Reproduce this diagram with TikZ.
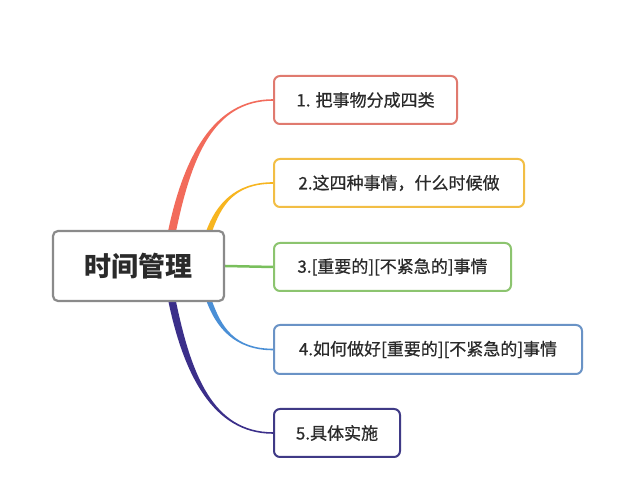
\documentclass[tikz,border=0pt]{standalone}
\usepackage{fontspec}
\setmainfont{Noto Sans CJK SC}
\newfontfamily\subfont[FakeBold=0.6]{Noto Sans CJK SC}
\usetikzlibrary{calc,backgrounds}
\definecolor{cRed}{HTML}{F26B5B}
\definecolor{bRed}{HTML}{E07A6F}
\definecolor{cYel}{HTML}{F7B51F}
\definecolor{bYel}{HTML}{F2BE45}
\definecolor{cGrn}{HTML}{79BF5C}
\definecolor{bGrn}{HTML}{8CC46F}
\definecolor{cBlu}{HTML}{4A8FD6}
\definecolor{bBlu}{HTML}{6A93C6}
\definecolor{cPur}{HTML}{3B2F8A}
\definecolor{bPur}{HTML}{3F3A86}
\definecolor{cGry}{HTML}{8A8A8A}
\definecolor{txt}{HTML}{2A2A2A}
\tikzset{
  topic/.style={draw=cGry,line width=2.2pt,rounded corners=5pt,fill=white,
    minimum width=171pt,minimum height=70pt,inner sep=0pt,text=txt,
    font=\fontsize{27}{30}\selectfont\bfseries},
  sub/.style={line width=2pt,rounded corners=6pt,fill=white,
    minimum height=48pt,inner sep=0pt,anchor=west,text=txt,
    font=\subfont\fontsize{17}{20}\selectfont},
}
% #1 colour, #2 start, #3 end, #4 half width at start, #5 sign (1 up, -1 down)
\newcommand\taperline[5]{%
  \fill[#1] let \p1=(#2), \p2=(#3), \n1={\x2-\x1}, \n2={\y2-\y1} in
    ({\x1-#4pt},\y1) .. controls ({\x1-#4pt+0.15*\n1},{\y1+0.55*\n2})
      and ({\x1+0.4*\n1},{\y2+#5*0.8pt}) .. (\x2,{\y2+#5*0.8pt})
    -- (\x2,{\y2-#5*0.8pt}) .. controls ({\x1+0.4*\n1},{\y2-#5*0.8pt})
      and ({\x1+#4pt+0.15*\n1},{\y1+0.55*\n2}) .. ({\x1+#4pt},\y1) -- cycle;}
\begin{document}
\begin{tikzpicture}[x=1pt,y=1pt]
\useasboundingbox (0,0) rectangle (625,500);
\node[topic] (c) at (138.5,234) {时间管理};
\node[sub,draw=bRed,minimum width=183pt] (b1) at (273,400) {1. 把事物分成四类};
\node[sub,draw=bYel,minimum width=250pt] (b2) at (273,317) {2.这四种事情，什么时候做};
\node[sub,draw=bGrn,minimum width=237pt] (b3) at (273,233) {3.[重要的][不紧急的]事情};
\node[sub,draw=bBlu,minimum width=308pt,minimum height=49pt] (b4) at (273,150.5) {4.如何做好[重要的][不紧急的]事情};
\node[sub,draw=bPur,minimum width=126pt] (b5) at (273,67) {5.具体实施};
\coordinate (s1) at ($(c.north west)+(120,-2)$);
\coordinate (s2) at ($(c.north west)+(157,-2)$);
\coordinate (s4) at ($(c.south west)+(157,2)$);
\coordinate (s5) at ($(c.south west)+(120,2)$);
\begin{scope}[on background layer]
\fill[white] (0,0) rectangle (625,500);
\taperline{cRed}{s1}{b1.west}{4}{1}
\taperline{cYel}{s2}{b2.west}{3}{1}
\draw[cGrn,line width=2.5pt] (c.east) -- (b3.west);
\taperline{cBlu}{s4}{b4.west}{2.8}{-1}
\taperline{cPur}{s5}{b5.west}{3.8}{-1}
\end{scope}
\end{tikzpicture}
\end{document}
